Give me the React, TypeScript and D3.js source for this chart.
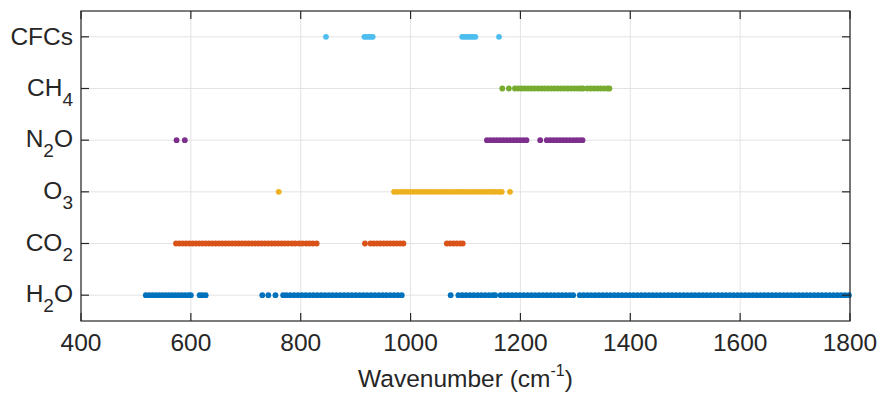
import React from "react";
import * as d3 from "d3";

const W = 884;
const H = 395;

// Categories (bottom to top)
const gases = ["H2O", "CO2", "O3", "N2O", "CH4", "CFCs"];
const gasMain = [["H", "O"], ["CO", ""], ["O", ""], ["N", "O"], ["CH", ""], ["CFCs", ""]];
const gasSub = ["2", "2", "3", "2", "4", ""];
const colors = ["#0072BD", "#D95319", "#EDB120", "#7E2F8E", "#77AC30", "#4DBEEE"];

const xTicks = [400, 600, 800, 1000, 1200, 1400, 1600, 1800];

// Wavenumbers (cm-1) of each gas' absorption points
const h2o = [
  518, 524, 530, 536, 542, 548, 554, 560, 566, 572, 578, 584, 590, 596, 600,
  616, 621, 627,
  730, 741, 754,
  768, 774, 781, 788, 795, 802, 809, 816, 823, 830, 837, 844, 851, 858, 865, 872, 879, 886, 893, 900,
  907, 914, 921, 928, 935, 942, 949, 956, 963, 970, 977, 984,
  1073,
  1087, 1094, 1101, 1108, 1115, 1122, 1129, 1136, 1143, 1150, 1154,
  1164, 1171, 1178, 1185, 1192, 1199, 1206, 1213, 1220, 1227, 1234, 1241, 1248, 1255, 1262, 1269,
  1276, 1283, 1290, 1296,
  1308, 1315, 1322, 1329, 1336, 1343, 1350, 1357, 1364, 1371, 1378, 1385, 1392, 1399, 1406, 1413,
  1420, 1427, 1434, 1441, 1448, 1455, 1462, 1469, 1476, 1483, 1490, 1497, 1504, 1511, 1518, 1525,
  1532, 1539, 1546, 1553, 1560, 1567, 1574, 1581, 1588, 1595, 1602, 1609, 1616, 1623, 1630, 1637,
  1644, 1651, 1658, 1665, 1672, 1679, 1686, 1693, 1700, 1707, 1714, 1721, 1728, 1735, 1742, 1749,
  1756, 1763, 1770, 1777, 1784, 1791, 1798,
];
const co2 = [
  573, 579, 585, 591, 597, 603, 609, 615, 621, 627, 633, 639, 645, 651, 657, 663, 669, 675, 681, 687,
  693, 699, 705, 711, 717, 723, 729, 735, 741, 747, 753, 759, 765, 771, 777,
  784, 790, 797, 803, 810, 816, 822, 829,
  917, 927, 933, 939, 945, 951, 957, 963, 969, 975, 981, 987,
  1066, 1072, 1078, 1084, 1090, 1095,
];
const o3 = [
  760,
  970, 976, 982, 988, 994, 1000, 1006, 1012, 1018, 1024, 1030, 1036, 1042, 1048, 1054, 1060, 1066,
  1072, 1078, 1084, 1090, 1096, 1102, 1108, 1114, 1120, 1126, 1132, 1138, 1144, 1150, 1155, 1161,
  1166, 1181,
];
const n2o = [
  574, 589,
  1139, 1145, 1151, 1157, 1163, 1169, 1175, 1181, 1187, 1193, 1199, 1205, 1211,
  1236,
  1248, 1254, 1260, 1266, 1272, 1278, 1284, 1290, 1296, 1302, 1308, 1313,
];
const ch4 = [
  1167, 1179,
  1190, 1196, 1202, 1208, 1214, 1220, 1226, 1232, 1238, 1244, 1250, 1256, 1262, 1268, 1274, 1280,
  1286, 1292, 1298, 1304, 1310, 1314,
  1322, 1328, 1334, 1340, 1346, 1352, 1358, 1362,
];
const cfcs = [846, 916, 920, 924, 928, 931, 1094, 1098, 1102, 1106, 1110, 1114, 1118, 1161];

const seriesValues = [h2o, co2, o3, n2o, ch4, cfcs];

export default function App() {
  const left = 81, right = 850, top = 11, bottom = 321;
  const x = d3.scaleLinear().domain([400, 1800]).range([left, right]);
  const y = d3.scaleLinear().domain([0.5, 6.5]).range([bottom, top]);
  const font = "'Liberation Sans', Arial, Helvetica, sans-serif";
  const axisColor = "#262626";
  const gridColor = "#e3e3e3";
  const tickLen = 8;
  const fs = 24.5;

  return (
    <svg width={W} height={H} style={{ position: "absolute", left: 0, top: 0, background: "#fff" }}
      fontFamily={font}>
      <rect x={0} y={0} width={W} height={H} fill="#fff" />
      {/* grid */}
      {xTicks.map((t) => (
        <line key={"gx" + t} x1={x(t)} x2={x(t)} y1={top} y2={bottom} stroke={gridColor} strokeWidth={1} />
      ))}
      {gases.map((g, i) => (
        <line key={"gy" + g} x1={left} x2={right} y1={y(i + 1)} y2={y(i + 1)} stroke={gridColor} strokeWidth={1} />
      ))}
      {/* points */}
      {seriesValues.map((vals, i) => (
        <g key={"s" + i} fill={colors[i]}>
          {vals.map((v, j) => (
            <circle key={j} cx={x(v)} cy={y(i + 1)} r={2.9} />
          ))}
        </g>
      ))}
      {/* box */}
      <rect x={left} y={top} width={right - left} height={bottom - top} fill="none" stroke={axisColor} strokeWidth={1.2} />
      {/* x ticks */}
      {xTicks.map((t) => (
        <g key={"xt" + t}>
          <line x1={x(t)} x2={x(t)} y1={bottom} y2={bottom - tickLen} stroke={axisColor} strokeWidth={1.2} />
          <line x1={x(t)} x2={x(t)} y1={top} y2={top + tickLen} stroke={axisColor} strokeWidth={1.2} />
          <text x={x(t)} y={351} textAnchor="middle" fontSize={fs} fill={axisColor}>{t}</text>
        </g>
      ))}
      {/* y ticks and labels */}
      {gases.map((g, i) => {
        const yy = y(i + 1);
        const [m1, m2] = gasMain[i];
        const sub = gasSub[i];
        return (
          <g key={"yt" + g}>
            <line x1={left} x2={left + tickLen} y1={yy} y2={yy} stroke={axisColor} strokeWidth={1.2} />
            <line x1={right} x2={right - tickLen} y1={yy} y2={yy} stroke={axisColor} strokeWidth={1.2} />
            <text x={73} y={yy + (sub ? 7 : 8.5)} textAnchor="end" fontSize={fs} fill={axisColor}>
              <tspan>{m1}</tspan>
              {sub ? <tspan fontSize={19} dy={10}>{sub}</tspan> : null}
              {m2 ? <tspan dy={-10}>{m2}</tspan> : null}
            </text>
          </g>
        );
      })}
      {/* x axis label */}
      <text x={(left + right) / 2} y={387} textAnchor="middle" fontSize={fs} fill={axisColor}>
        <tspan>Wavenumber (cm</tspan>
        <tspan fontSize={16} dy={-11}>-1</tspan>
        <tspan dy={11}>)</tspan>
      </text>
    </svg>
  );
}
